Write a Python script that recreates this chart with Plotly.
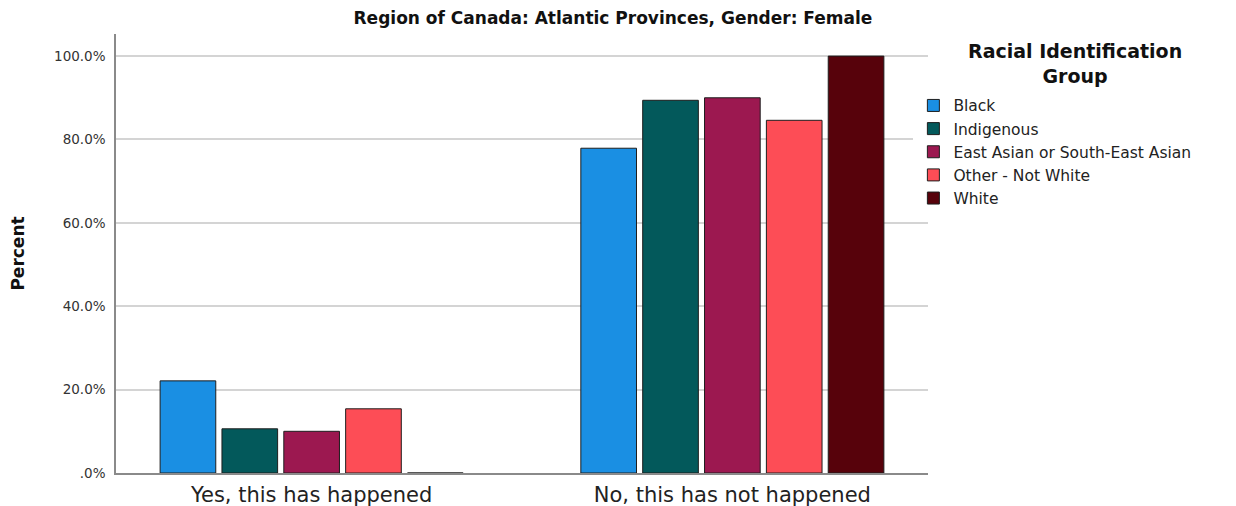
import plotly.graph_objects as go

# categories and values (percent)
answers = ["Yes, this has happened", "No, this has not happened"]
groups = ["Black", "Indigenous", "East Asian or South-East Asian", "Other - Not White", "White"]
black = [22.1, 77.9]
indigenous = [10.6, 89.4]
east_asian = [10.0, 90.0]
other = [15.4, 84.6]
white = [0.0, 100.0]
colors = ["#1a8fe3", "#03595b", "#9c1850", "#fd4d56", "#57020b"]

tick_vals = [0, 20, 40, 60, 80, 100]
tick_text = [".0%", "20.0%", "40.0%", "60.0%", "80.0%", "100.0%"]

FONT = "DejaVu Sans"

fig = go.Figure()
for name, vals, col in zip(groups, [black, indigenous, east_asian, other, white], colors):
    fig.add_trace(go.Bar(x=answers, y=vals, name=name,
                         marker=dict(color=col, line=dict(color="#1e1e1e", width=1))))

# page body has an 8px margin, so the figure is 8px smaller than the window
fig.update_layout(
    width=1228, height=498,
    margin=dict(l=108, r=308, t=26, b=33, autoexpand=False),
    paper_bgcolor="white", plot_bgcolor="white",
    font=dict(family=FONT, color="#222"),
    barmode="group", bargap=0.265, bargroupgap=0.1,
    title=dict(text="<b>Region of Canada: Atlantic Provinces, Gender: Female</b>",
               xref="paper", x=0.612, xanchor="center", y=0.98, yanchor="middle",
               font=dict(family=FONT, size=17, color="#111")),
    xaxis=dict(range=[-0.465, 1.465], showline=True, linecolor="#8a8a8a", linewidth=1.5,
               automargin=False, ticks="", ticklabelstandoff=2,
               tickfont=dict(size=21, color="#222")),
    yaxis=dict(range=[0, 105.3], tickvals=tick_vals, ticktext=tick_text,
               showgrid=True, gridcolor="#d4d4d4", gridwidth=1.5,
               showline=True, linecolor="#8a8a8a", linewidth=1.5, zeroline=False,
               automargin=False, ticks="", ticklabelstandoff=6,
               tickfont=dict(size=13.5, color="#333"),
               title=dict(text="<b>Percent</b>", font=dict(size=17, color="#111"), standoff=30)),
    legend=dict(x=0.982, xanchor="left", y=0.875, yanchor="top",
                font=dict(size=15.5, color="#222"), tracegroupgap=0, itemwidth=30),
    showlegend=True,
)

fig.add_annotation(text="<b>Racial Identification<br>Group</b>", xref="paper", yref="paper",
                   x=1.181, y=0.99, xanchor="center", yanchor="top", showarrow=False,
                   font=dict(family=FONT, size=19, color="#111"))

fig.write_html("out.html")
